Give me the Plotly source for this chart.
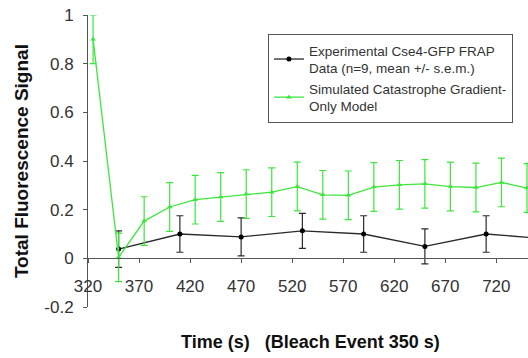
import plotly.graph_objects as go

# --- data ---
time_exp = [350, 410, 470, 530, 590, 650, 710, 770]
exp_mean = [0.038, 0.100, 0.088, 0.113, 0.100, 0.049, 0.100, 0.080]
exp_sem = [0.075, 0.075, 0.078, 0.072, 0.075, 0.072, 0.075, 0.075]

time_sim = [325, 350, 375, 400, 425, 450, 475, 500, 525, 550, 575,
            600, 625, 650, 675, 700, 725, 750]
sim_mean = [0.900, 0.004, 0.153, 0.211, 0.241, 0.252, 0.264, 0.272, 0.295,
            0.261, 0.259, 0.293, 0.302, 0.306, 0.295, 0.291, 0.312, 0.289]
sim_err = [0.10, 0.10, 0.10, 0.10, 0.10, 0.10, 0.10, 0.10, 0.10,
           0.10, 0.10, 0.10, 0.10, 0.10, 0.10, 0.10, 0.10, 0.10]

x_ticks = [320, 370, 420, 470, 520, 570, 620, 670, 720]
y_ticks = [-0.2, 0, 0.2, 0.4, 0.6, 0.8, 1]
y_ticktext = ["-0.2", "0", "0.2", "0.4", "0.6", "0.8", "1"]

exp_name = "Experimental Cse4-GFP FRAP<br>Data (n=9, mean +/- s.e.m.)"
sim_name = "Simulated Catastrophe Gradient-<br>Only Model"

FONT = "Arial, 'Liberation Sans', sans-serif"
GREEN = "#3de63d"

fig = go.Figure()
fig.add_trace(go.Scatter(
    x=time_exp, y=exp_mean, name=exp_name, mode="lines+markers",
    line=dict(color="#2a2a2a", width=1.3),
    marker=dict(color="#000000", size=5, symbol="circle"),
    error_y=dict(type="data", array=exp_sem, visible=True,
                 color="#2a2a2a", thickness=1.2, width=3.5),
))
fig.add_trace(go.Scatter(
    x=time_sim, y=sim_mean, name=sim_name, mode="lines+markers",
    line=dict(color=GREEN, width=1.3),
    marker=dict(color=GREEN, size=5, symbol="triangle-up"),
    error_y=dict(type="data", array=sim_err, visible=True,
                 color=GREEN, thickness=1.2, width=3.5),
))

y_range = [-0.2, 1.0]
zero_pos = (0 - y_range[0]) / (y_range[1] - y_range[0])

fig.update_layout(
    width=528, height=358,
    margin=dict(l=88, r=0, t=15, b=51, autoexpand=False),
    paper_bgcolor="white", plot_bgcolor="white",
    font=dict(family=FONT, color="#333333"),
    showlegend=True,
    legend=dict(
        x=0.409, y=0.935, xanchor="left", yanchor="top",
        bgcolor="white", bordercolor="#555555", borderwidth=1,
        font=dict(family=FONT, size=13.5, color="#333333"),
        tracegroupgap=0,
    ),
    xaxis=dict(
        range=[320, 751], tickmode="array", tickvals=x_ticks,
        showgrid=False, zeroline=False, automargin=False,
        showline=True, linecolor="#555555", linewidth=1,
        ticks="outside", ticklen=4, tickcolor="#555555",
        tickfont=dict(family=FONT, size=17, color="#333333"),
        anchor="free", position=zero_pos,
        ticklabelstandoff=8, ticklabeloverflow="allow",
    ),
    yaxis=dict(
        range=y_range, tickmode="array", tickvals=y_ticks, ticktext=y_ticktext,
        showgrid=False, zeroline=False, automargin=False,
        showline=True, linecolor="#555555", linewidth=1,
        ticks="outside", ticklen=4, tickcolor="#555555",
        tickfont=dict(family=FONT, size=17, color="#333333"),
        ticklabelstandoff=6, ticklabeloverflow="allow",
    ),
    annotations=[
        dict(text="<b>Time (s)\u00a0\u00a0\u00a0(Bleach Event 350 s)</b>",
             xref="paper", yref="paper", x=0.506, y=-0.12,
             xanchor="center", yanchor="middle", showarrow=False,
             font=dict(family=FONT, size=18, color="#111111")),
        dict(text="<b>Total Fluorescence Signal</b>",
             xref="paper", yref="paper", x=-0.152, y=0.5, textangle=-90,
             xanchor="center", yanchor="middle", showarrow=False,
             font=dict(family=FONT, size=19, color="#111111")),
    ],
)

# remove the default 8px page margin so the figure sits at the window corner
fig.write_html("out.html",
               config={"displayModeBar": False},
               post_script="document.body.style.margin='0px';")
